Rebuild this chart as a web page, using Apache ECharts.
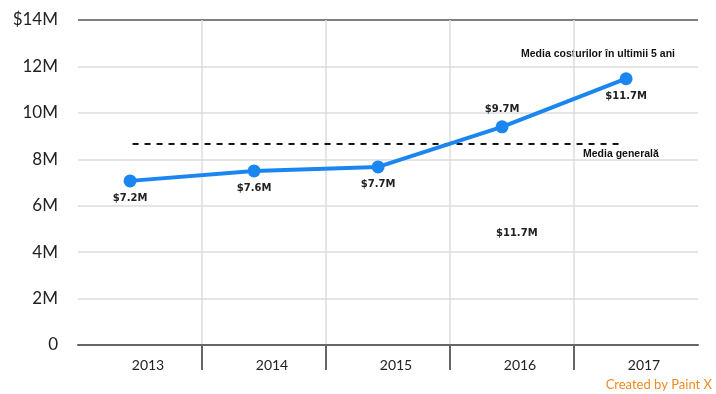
<!DOCTYPE html>
<html>
<head>
<meta charset="utf-8">
<script src="https://cdn.jsdelivr.net/npm/echarts@6/dist/echarts.min.js"></script>
<style>
  html, body { margin: 0; padding: 0; background: #fff; }
  #chart { width: 716px; height: 394px; }
</style>
</head>
<body>
<div id="chart"></div>
<script>
// values
var years = ['2013', '2014', '2015', '2016', '2017'];
var costs = [7.07e6, 7.5e6, 7.67e6, 9.4e6, 11.47e6];
var costLabels = ['$7.2M', '$7.6M', '$7.7M', '$9.7M', '$11.7M'];
var overallMean = 8.66e6;
var meanSpan = [0.44, 4.36];

var labelPos = ['bottom', 'bottom', 'bottom', 'top', 'bottom'];
var pointShift = 0.42;

var chart = echarts.init(document.getElementById('chart'));

var lineData = costs.map(function (v, i) {
    return {
        value: [i + pointShift, v],
        label: { position: labelPos[i], formatter: costLabels[i] }
    };
});

chart.setOption({
    animation: false,
    grid: { left: 78, right: 18, top: 20, bottom: 49 },
    xAxis: [
        {
            type: 'category',
            data: years,
            axisLine: { show: false },
            axisTick: { show: false },
            splitLine: { show: false },
            axisLabel: {
                margin: 13,
                fontSize: 14,
                color: '#222',
                fontFamily: 'Lato',
                padding: [0, 0, 0, 16]
            }
        },
        {
            type: 'value',
            min: 0,
            max: 5,
            interval: 1,
            position: 'bottom',
            axisLine: { show: true, lineStyle: { color: '#666', width: 2 } },
            axisTick: {
                show: true,
                length: 25,
                customValues: [1, 2, 3, 4],
                lineStyle: { color: '#666', width: 2 }
            },
            axisLabel: { show: false },
            splitLine: {
                show: true,
                lineStyle: { color: '#dcdcdc', width: 1.5 }
            }
        }
    ],
    yAxis: {
        type: 'value',
        min: 0,
        max: 14e6,
        interval: 2e6,
        axisLine: { show: false },
        axisTick: { show: false },
        axisLabel: {
            margin: 20,
            fontSize: 17,
            color: '#222',
            fontFamily: 'Lato',
            formatter: function (v) {
                if (v === 0) return '0';
                if (v === 14e6) return '$14M';
                return (v / 1e6) + 'M';
            }
        },
        splitLine: {
            lineStyle: {
                color: ['#dcdcdc', '#dcdcdc', '#dcdcdc', '#dcdcdc', '#dcdcdc', '#dcdcdc', '#dcdcdc', '#555'],
                width: 1.5
            }
        }
    },
    series: [
        {
            type: 'line',
            xAxisIndex: 1,
            data: [[meanSpan[0], overallMean], [meanSpan[1], overallMean]],
            symbol: 'none',
            lineStyle: { color: '#111', width: 2, type: [6, 6] },
            z: 1
        },
        {
            type: 'line',
            xAxisIndex: 1,
            data: lineData,
            symbol: 'circle',
            symbolSize: 13,
            itemStyle: { color: '#1b86ef' },
            lineStyle: { color: '#1b86ef', width: 4 },
            label: {
                show: true,
                distance: 6,
                fontSize: 10,
                fontWeight: 'bold',
                fontFamily: 'DejaVu Sans',
                color: '#222'
            },
            z: 3
        }
    ],
    graphic: [
        {
            type: 'text',
            left: 521, top: 49,
            style: { text: 'Media costurilor în ultimii 5 ani', fontSize: 10.5, fontWeight: 'bold', fontFamily: 'Liberation Sans', fill: '#111' }
        },
        {
            type: 'text',
            left: 583, top: 149,
            style: { text: 'Media generală', fontSize: 10.5, fontWeight: 'bold', fontFamily: 'Liberation Sans', fill: '#111' }
        },
        {
            type: 'text',
            left: 496, top: 228,
            style: { text: '$11.7M', fontSize: 10, fontWeight: 'bold', fontFamily: 'DejaVu Sans', fill: '#222' }
        },
        {
            type: 'text',
            right: 4, bottom: 3,
            style: { text: 'Created by Paint X', fontSize: 13, fontFamily: 'Lato', fill: '#f08a24' }
        }
    ]
});
</script>
</body>
</html>
